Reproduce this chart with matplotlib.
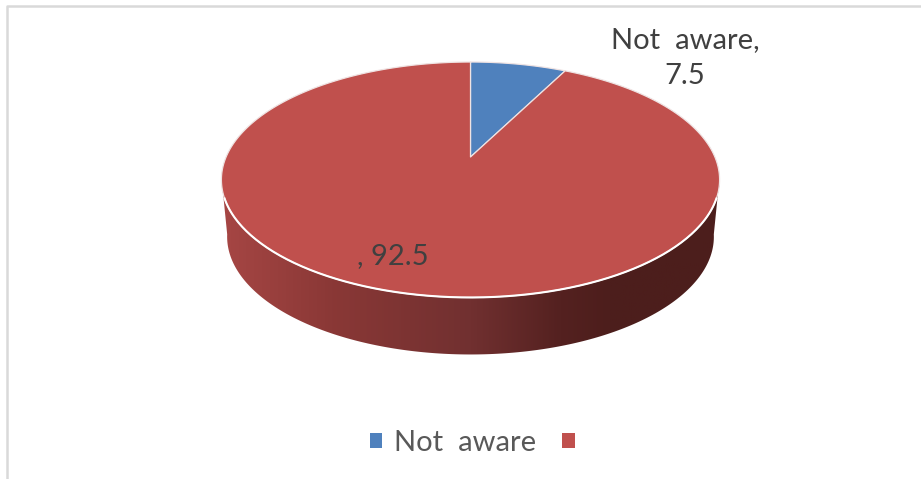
import numpy as np
import matplotlib
matplotlib.use("Agg")
import matplotlib.pyplot as plt
from matplotlib.patches import Patch, Polygon
from matplotlib.colors import LinearSegmentedColormap

categorias = ["Not  aware", ""]
valores = [7.5, 92.5]
colores = ["#4F81BD", "#C0504D"]

plt.rcParams['font.family'] = ['Lato', 'DejaVu Sans']

ANCHO, ALTO = 921, 479
fig = plt.figure(figsize=(ANCHO / 100, ALTO / 100), dpi=100)
ax = fig.add_axes([0, 0, 1, 1])
ax.set_xlim(0, ANCHO)
ax.set_ylim(ALTO, 0)
ax.axis("off")

# Marco del grafico: solo arriba y a la izquierda
ax.plot([7, 7, ANCHO], [ALTO, 6, 6], color="#D9D9D9", linewidth=1.8)

# Proyeccion con perspectiva del disco a la pantalla
CX, CY = 470.5, 157
K, P, Q = 0.1932, -83.0, 244.4


def proyectar(angulo):
    # angulo en grados, desde arriba y en sentido horario
    t = np.radians(angulo)
    x, y = np.sin(t), np.cos(t)
    d = 1 + K * y
    return CX + Q * x / d, (CY + P * y) / d


# Pared lateral con degradado
x_a, y_a = proyectar(np.linspace(100, 260, 200))
x_b = CX + (x_a[::-1] - CX) * 0.977  # borde inferior, un poco mas estrecho
y_b = y_a[::-1] + 57
pared = np.concatenate([np.column_stack([x_a, y_a]), np.column_stack([x_b, y_b])])
poligono = Polygon(pared, closed=True, facecolor="none", edgecolor="none")
ax.add_patch(poligono)
cmap = LinearSegmentedColormap.from_list("lado", [
    (0.0, "#A64644"), (0.22, "#8A3836"), (0.5, "#713030"),
    (0.68, "#542120"), (0.78, "#4D1E1C"), (1.0, "#4C1E1C")])
img = ax.imshow(np.linspace(0, 1, 256).reshape(1, -1), cmap=cmap, aspect="auto",
                extent=(222, 719, 360, 170), zorder=1)
img.set_clip_path(poligono)
ax.set_xlim(0, ANCHO)
ax.set_ylim(ALTO, 0)

# Cara superior, desde las 12 en sentido horario
inicio = 0
total = sum(valores)
for valor, color in zip(valores, colores):
    fin = inicio + 360 * valor / total
    xs, ys = proyectar(np.linspace(inicio, fin, 300))
    puntos = np.column_stack([np.r_[CX, xs], np.r_[CY, ys]])
    ax.add_patch(Polygon(puntos, closed=True, facecolor=color, edgecolor="#EFE3E3",
                         linewidth=0.9, joinstyle="round", zorder=2))
    inicio = fin

# Filo blanco entre la cara y la pared
x_r, y_r = proyectar(np.linspace(110, 250, 200))
ax.plot(x_r, y_r, color="white", linewidth=1.5, zorder=3)

# Etiquetas de datos
ax.text(685, 58, f"{categorias[0]},\n{valores[0]}", ha="center", va="center", fontsize=21,
        color="#404040", linespacing=1.5, zorder=4)
ax.text(393, 256, f"{categorias[1]}, {valores[1]}", ha="center", va="center", fontsize=21,
        color="#404040", zorder=4)

# Leyenda
handles = [Patch(facecolor=c, edgecolor="none") for c in colores]
ax.legend(handles, categorias, ncol=2, frameon=False, loc="center left",
          bbox_to_anchor=(358 / ANCHO, 1 - 443 / ALTO), fontsize=21, labelcolor="#595959",
          handlelength=0.43, handleheight=0.43, handletextpad=0.42, columnspacing=0.87,
          borderpad=0.4, borderaxespad=0)

fig.savefig("out.png", dpi=100)
